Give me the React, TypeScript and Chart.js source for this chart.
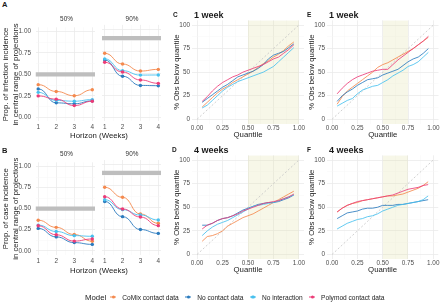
import React, { useEffect, useRef } from "react";
import { Chart, registerables } from "chart.js";
Chart.register(...registerables);

const FONT = "'Liberation Sans', Arial, Helvetica, sans-serif";

// ---------------- data ----------------
const models = ["CoMix contact data", "No contact data", "No interaction", "Polymod contact data"];
const modelColors = ["#F4894E", "#2B7BBE", "#47C0EE", "#EC3B77"];
const horizons = [1, 2, 3, 4];
const facetLabels = ["50%", "90%"];
const facetTargets = [0.5, 0.9];
const quantiles = [0.05, 0.1, 0.15, 0.2, 0.25, 0.3, 0.35, 0.4, 0.45, 0.5, 0.55, 0.6, 0.65, 0.7, 0.75, 0.8, 0.85, 0.9, 0.95];

// A: infection incidence
const infection50Comix = [0.38, 0.3, 0.25, 0.32];
const infection50NoContact = [0.33, 0.167, 0.156, 0.19];
const infection50NoInteraction = [0.29, 0.195, 0.186, 0.205];
const infection50Polymod = [0.248, 0.21, 0.135, 0.186];
const infection90Comix = [0.726, 0.604, 0.524, 0.543];
const infection90NoContact = [0.65, 0.465, 0.36, 0.357];
const infection90NoInteraction = [0.663, 0.528, 0.478, 0.479];
const infection90Polymod = [0.624, 0.513, 0.422, 0.384];

// B: case incidence
const case50Comix = [0.363, 0.278, 0.193, 0.114];
const case50NoContact = [0.266, 0.165, 0.097, 0.076];
const case50NoInteraction = [0.305, 0.229, 0.18, 0.172];
const case50Polymod = [0.297, 0.19, 0.115, 0.14];
const case90Comix = [0.734, 0.618, 0.425, 0.317];
const case90NoContact = [0.57, 0.394, 0.245, 0.2];
const case90NoInteraction = [0.59, 0.475, 0.413, 0.355];
const case90Polymod = [0.625, 0.483, 0.39, 0.29];

// C: 1 week (left)
const c1Comix = [13, 18, 23, 28, 32, 35, 39, 42, 45, 48, 51, 55, 59, 62, 66, 69, 73, 78, 82];
const c1NoContact = [18, 22, 26, 30, 34, 37, 41, 45, 47, 49, 51, 54, 58, 64, 68, 70, 72, 76, 80];
const c1NoInteraction = [12, 15, 20, 25, 30, 34, 37, 40, 42, 44, 46, 48, 50, 53, 56, 61, 66, 71, 76];
const c1Polymod = [19, 24, 30, 35, 39, 42, 45, 47, 50, 52, 54, 56, 58, 61, 64, 66, 70, 74, 79];
// D: 4 weeks (left)
const d4Comix = [14, 19, 20, 22, 25, 30, 33, 36, 39, 41, 43, 46, 49, 52, 55, 58, 61, 64, 67];
const d4NoContact = [31, 31, 33, 36, 38, 39, 41, 44, 47, 49, 51, 53, 54, 55, 55, 56, 58, 60, 63];
const d4NoInteraction = [20, 25, 29, 32, 34, 36, 39, 42, 45, 48, 51, 52, 53, 54, 55, 57, 59, 61, 63];
const d4Polymod = [27, 31, 33, 36, 38, 39, 41, 43, 46, 48, 50, 52, 54, 55, 56, 57, 59, 61, 64];
// E: 1 week (right)
const e1Comix = [16, 24, 30, 34, 38, 42, 46, 50, 55, 58, 60, 63, 66, 69, 72, 75, 79, 83, 87];
const e1NoContact = [19, 25, 29, 32, 36, 39, 42, 43, 44, 47, 49, 51, 53, 57, 61, 64, 66, 70, 75];
const e1NoInteraction = [14, 17, 20, 22, 27, 31, 33, 35, 36, 39, 42, 46, 49, 52, 56, 58, 61, 66, 71];
const e1Polymod = [27, 33, 38, 42, 45, 47, 49, 51, 52, 53, 53, 58, 63, 67, 71, 75, 79, 83, 88];
// F: 4 weeks (right)
const f4Comix = [45, 49, 52, 54, 55, 57, 58, 59, 60, 61, 62, 62, 63, 64, 66, 68, 70, 73, 77];
const f4NoContact = [38, 41, 44, 45, 46, 48, 49, 49, 50, 52, 52, 52, 53, 53, 54, 55, 56, 57, 58];
const f4NoInteraction = [27, 30, 33, 35, 37, 38, 40, 41, 43, 46, 48, 50, 52, 53, 54, 55, 56, 58, 62];
const f4Polymod = [45, 49, 52, 54, 56, 57, 58, 59, 60, 61, 62, 63, 65, 67, 69, 70, 71, 73, 74];

const shadeLeft = [0.5, 1.0];
const shadeRight = [0.5, 0.75];

// ticks
const horizonMajors = [1, 2, 3, 4];
const horizonMinors = [1.5, 2.5, 3.5];
const propMajors = [0, 0.25, 0.5, 0.75, 1];
const propMinors = [0.125, 0.375, 0.625, 0.875];
const qMajors = [0, 0.25, 0.5, 0.75, 1];
const qMinors = [0.125, 0.375, 0.625, 0.875];
const pctMajors = [0, 25, 50, 75, 100];
const pctMinors = [12.5, 37.5, 62.5, 87.5];

const H_MIN = 0.85, H_MAX = 4.15;
const P_MIN = -0.05, P_MAX = 1.05;
const Q_MIN = -0.05, Q_MAX = 1.05;
const PCT_MIN = -5, PCT_MAX = 105;

// ---------------- helpers ----------------
const sigmoidPlugin = {
  id: "sigmoidCurves",
  beforeDatasetsDraw(chart: any) {
    chart.data.datasets.forEach((ds: any, i: number) => {
      if (!ds.sigmoid) return;
      const meta = chart.getDatasetMeta(i);
      const line = meta.dataset;
      const pts = meta.data;
      if (line && line.updateControlPoints) line.updateControlPoints(chart.chartArea, "x");
      for (let k = 0; k < pts.length; k++) {
        const p = pts[k];
        const prev = pts[k - 1];
        const next = pts[k + 1];
        p.cp1x = prev ? p.x - (p.x - prev.x) * 0.5 : p.x;
        p.cp1y = p.y;
        p.cp2x = next ? p.x + (next.x - p.x) * 0.5 : p.x;
        p.cp2y = p.y;
      }
    });
  },
};

function makeScale(o: {
  min: number; max: number; majors: number[]; minors: number[]; fmt: (v: number) => string;
  labels: boolean; axis: "x" | "y"; size: number; pad: number; title?: any;
}) {
  const all = [...o.majors, ...o.minors].sort((a, b) => a - b);
  const isMajor = (v: number) => o.majors.some((m) => Math.abs(m - v) < 1e-9);
  return {
    type: "linear",
    min: o.min,
    max: o.max,
    afterBuildTicks: (s: any) => {
      s.ticks = all.map((v) => ({ value: v }));
    },
    afterFit: (s: any) => {
      if (o.axis === "y") s.width = o.size;
      else s.height = o.size;
    },
    ticks: {
      display: o.labels,
      autoSkip: false,
      maxRotation: 0,
      padding: o.pad,
      color: "#4D4D4D",
      font: { family: FONT, size: 6.4 },
      callback: (v: number) => (isMajor(v) ? o.fmt(v) : ""),
    },
    grid: {
      drawTicks: false,
      color: (ctx: any) => (ctx.tick && isMajor(ctx.tick.value) ? "#EBEBEB" : "#F5F5F5"),
      lineWidth: (ctx: any) => (ctx.tick && isMajor(ctx.tick.value) ? 0.8 : 0.45),
    },
    border: { display: false },
    title: o.title || { display: false },
  };
}

const titleFont = { family: FONT, size: 7.8 };

function facetConfig(series: number[][], target: number, g: any) {
  const datasets: any[] = [
    {
      data: [{ x: H_MIN, y: target }, { x: H_MAX, y: target }],
      borderColor: "#BEBEBE",
      borderWidth: 4.3,
      borderCapStyle: "butt",
      pointRadius: 0,
      order: 10,
    },
    ...series.map((vals, i) => ({
      data: horizons.map((h, k) => ({ x: h, y: vals[k] })),
      borderColor: modelColors[i],
      backgroundColor: modelColors[i],
      borderWidth: 0.9,
      pointRadius: 1.7,
      pointBorderWidth: 0,
      tension: 0.4,
      sigmoid: true,
      order: 5 - i,
    })),
  ];
  return {
    type: "line",
    data: { datasets },
    plugins: [sigmoidPlugin],
    options: {
      animation: false,
      responsive: false,
      events: [],
      layout: { padding: { top: g.pt, right: g.pr, left: g.pl || 0, bottom: 0 } },
      plugins: { legend: { display: false }, tooltip: { enabled: false } },
      scales: {
        x: makeScale({ min: H_MIN, max: H_MAX, majors: horizonMajors, minors: horizonMinors, fmt: (v) => String(v), labels: true, axis: "x", size: g.xH, pad: g.xPad }),
        y: makeScale({
          min: P_MIN, max: P_MAX, majors: propMajors, minors: propMinors, fmt: (v) => v.toFixed(2), labels: g.yLabels, axis: "y", size: g.yW, pad: 4.5,
          title: g.yTitle ? { display: true, text: g.yTitle, font: titleFont, color: "#1A1A1A", padding: { top: 1.4, bottom: 0 } } : undefined,
        }),
      },
    },
  };
}

function quantileConfig(series: number[][], shade: number[], g: any) {
  const datasets: any[] = [
    {
      data: [{ x: shade[0], y: PCT_MAX }, { x: shade[1], y: PCT_MAX }],
      fill: "start",
      backgroundColor: "rgba(222,222,165,0.25)",
      borderWidth: 0,
      pointRadius: 0,
      order: 20,
    },
    {
      data: [{ x: 0, y: 0 }, { x: 1, y: 100 }],
      borderColor: "#C4C4C4",
      borderWidth: 0.8,
      borderDash: [2, 2],
      pointRadius: 0,
      order: 15,
    },
    ...series.map((vals, i) => ({
      data: quantiles.map((q, k) => ({ x: q, y: vals[k] })),
      borderColor: modelColors[i],
      borderWidth: 0.85,
      pointRadius: 0,
      tension: 0,
      order: 5 - i,
    })),
  ];
  return {
    type: "line",
    data: { datasets },
    options: {
      animation: false,
      responsive: false,
      events: [],
      layout: { padding: { top: g.pt, right: g.pr, left: 0, bottom: 0 } },
      plugins: { legend: { display: false }, tooltip: { enabled: false } },
      scales: {
        x: makeScale({
          min: Q_MIN, max: Q_MAX, majors: qMajors, minors: qMinors, fmt: (v) => v.toFixed(2), labels: true, axis: "x", size: g.xH, pad: g.xPad,
          title: { display: true, text: "Quantile", font: titleFont, color: "#1A1A1A", padding: { top: 0, bottom: g.tPad } },
        }),
        y: makeScale({
          min: PCT_MIN, max: PCT_MAX, majors: pctMajors, minors: pctMinors, fmt: (v) => String(v), labels: true, axis: "y", size: g.yW, pad: 2,
          title: { display: true, text: "% Obs below quantile", font: titleFont, color: "#1A1A1A", padding: { top: 0.3, bottom: 0 } },
        }),
      },
    },
  };
}

function ChartCanvas({ left, top, width, height, make }: { left: number; top: number; width: number; height: number; make: () => any }) {
  const ref = useRef<HTMLCanvasElement>(null);
  useEffect(() => {
    const chart = new Chart(ref.current as HTMLCanvasElement, make());
    return () => chart.destroy();
  }, []);
  return (
    <canvas
      ref={ref}
      width={width}
      height={height}
      style={{ position: "absolute", left, top, width, height }}
    />
  );
}

function Txt({ x, y, text, size = 6.4, bold = false, color = "#1A1A1A", center = false }: any) {
  return (
    <div
      style={{
        position: "absolute",
        left: x,
        top: y,
        transform: center ? "translate(-50%,-50%)" : "translate(0,-50%)",
        fontFamily: FONT,
        fontSize: size,
        fontWeight: bold ? 700 : 400,
        color,
        lineHeight: 1,
        whiteSpace: "nowrap",
      }}
    >
      {text}
    </div>
  );
}

function LegendKey({ color }: { color: string }) {
  return (
    <div style={{ position: "relative", width: 6, height: 6, margin: "0 6px 0 0" }}>
      <div style={{ position: "absolute", left: 0, top: 2.6, width: 6, height: 0.9, background: color }} />
      <div style={{ position: "absolute", left: 1.6, top: 1.4, width: 3.2, height: 3.2, borderRadius: "50%", background: color }} />
    </div>
  );
}

export default function App() {
  const infection = [
    [infection50Comix, infection50NoContact, infection50NoInteraction, infection50Polymod],
    [infection90Comix, infection90NoContact, infection90NoInteraction, infection90Polymod],
  ];
  const cases = [
    [case50Comix, case50NoContact, case50NoInteraction, case50Polymod],
    [case90Comix, case90NoContact, case90NoInteraction, case90Polymod],
  ];
  const seriesC = [c1Comix, c1NoContact, c1NoInteraction, c1Polymod];
  const seriesD = [d4Comix, d4NoContact, d4NoInteraction, d4Polymod];
  const seriesE = [e1Comix, e1NoContact, e1NoInteraction, e1Polymod];
  const seriesF = [f4Comix, f4NoContact, f4NoInteraction, f4Polymod];

  return (
    <div style={{ position: "absolute", left: 0, top: 0, width: 440, height: 302, background: "#FFFFFF", overflow: "hidden" }}>
      {/* Panel A */}
      <ChartCanvas left={0} top={19} width={99} height={113}
        make={() => facetConfig(infection[0], facetTargets[0], { pt: 5.9, pr: 1.5, yW: 35.5, xH: 10.6, xPad: 1.8, yLabels: true, yTitle: ["Prop. of infection incidence", "in central range of projections"] })} />
      <ChartCanvas left={98} top={19} width={67} height={113}
        make={() => facetConfig(infection[1], facetTargets[1], { pt: 5.9, pr: 2, pl: 3, yW: 0, xH: 10.6, xPad: 1.8, yLabels: false })} />
      {/* Panel B */}
      <ChartCanvas left={0} top={154} width={99} height={112}
        make={() => facetConfig(cases[0], facetTargets[0], { pt: 6, pr: 1.5, yW: 35.5, xH: 11, xPad: 2.6, yLabels: true, yTitle: ["Prop. of case incidence", "in central range of projections"] })} />
      <ChartCanvas left={98} top={154} width={67} height={112}
        make={() => facetConfig(cases[1], facetTargets[1], { pt: 6, pr: 2, pl: 3, yW: 0, xH: 11, xPad: 2.6, yLabels: false })} />
      {/* Panel C */}
      <ChartCanvas left={172} top={14} width={135} height={126}
        make={() => quantileConfig(seriesC, shadeLeft, { pt: 6.3, pr: 3, yW: 20, xH: 16, xPad: 0, tPad: 0.3 })} />
      {/* Panel D */}
      <ChartCanvas left={172} top={149} width={135} height={126}
        make={() => quantileConfig(seriesD, shadeLeft, { pt: 6.3, pr: 3, yW: 20, xH: 15.8, xPad: 0.5, tPad: 0.5 })} />
      {/* Panel E */}
      <ChartCanvas left={307} top={14} width={133} height={126}
        make={() => quantileConfig(seriesE, shadeRight, { pt: 6.3, pr: 1.5, yW: 20, xH: 16, xPad: 0, tPad: 0.3 })} />
      {/* Panel F */}
      <ChartCanvas left={307} top={149} width={133} height={126}
        make={() => quantileConfig(seriesF, shadeRight, { pt: 6.3, pr: 1.5, yW: 20, xH: 15.8, xPad: 0.5, tPad: 0.5 })} />

      {/* tags, strips, titles */}
      <Txt x={2} y={4.5} text="A" bold size={7.5} />
      <Txt x={66.5} y={19} text={facetLabels[0]} center color="#333333" />
      <Txt x={132} y={19} text={facetLabels[1]} center color="#333333" />
      <Txt x={99} y={136} text="Horizon (Weeks)" size={7.8} center />
      <Txt x={2} y={150.5} text="B" bold size={7.5} />
      <Txt x={66.5} y={154} text={facetLabels[0]} center color="#333333" />
      <Txt x={132} y={154} text={facetLabels[1]} center color="#333333" />
      <Txt x={99} y={270.5} text="Horizon (Weeks)" size={7.8} center />

      <Txt x={173} y={15} text="C" bold size={6.5} />
      <Txt x={194} y={15} text="1 week" bold size={9} />
      <Txt x={172} y={150} text="D" bold size={6.5} />
      <Txt x={194} y={150} text="4 weeks" bold size={9} />
      <Txt x={307} y={15} text="E" bold size={6.5} />
      <Txt x={329} y={15} text="1 week" bold size={9} />
      <Txt x={307} y={150} text="F" bold size={6.5} />
      <Txt x={329} y={150} text="4 weeks" bold size={9} />

      {/* legend */}
      <div style={{ position: "absolute", left: 85, top: 297, transform: "translateY(-50%)", display: "flex", alignItems: "center", fontFamily: FONT, whiteSpace: "nowrap" }}>
        <span style={{ fontSize: 7.8, color: "#1A1A1A", marginRight: 4 }}>Model</span>
        {models.map((m, i) => (
          <div key={m} style={{ display: "flex", alignItems: "center", marginRight: i < models.length - 1 ? 6.5 : 0 }}>
            <LegendKey color={modelColors[i]} />
            <span style={{ fontSize: 6.6, color: "#1A1A1A" }}>{m}</span>
          </div>
        ))}
      </div>
    </div>
  );
}
